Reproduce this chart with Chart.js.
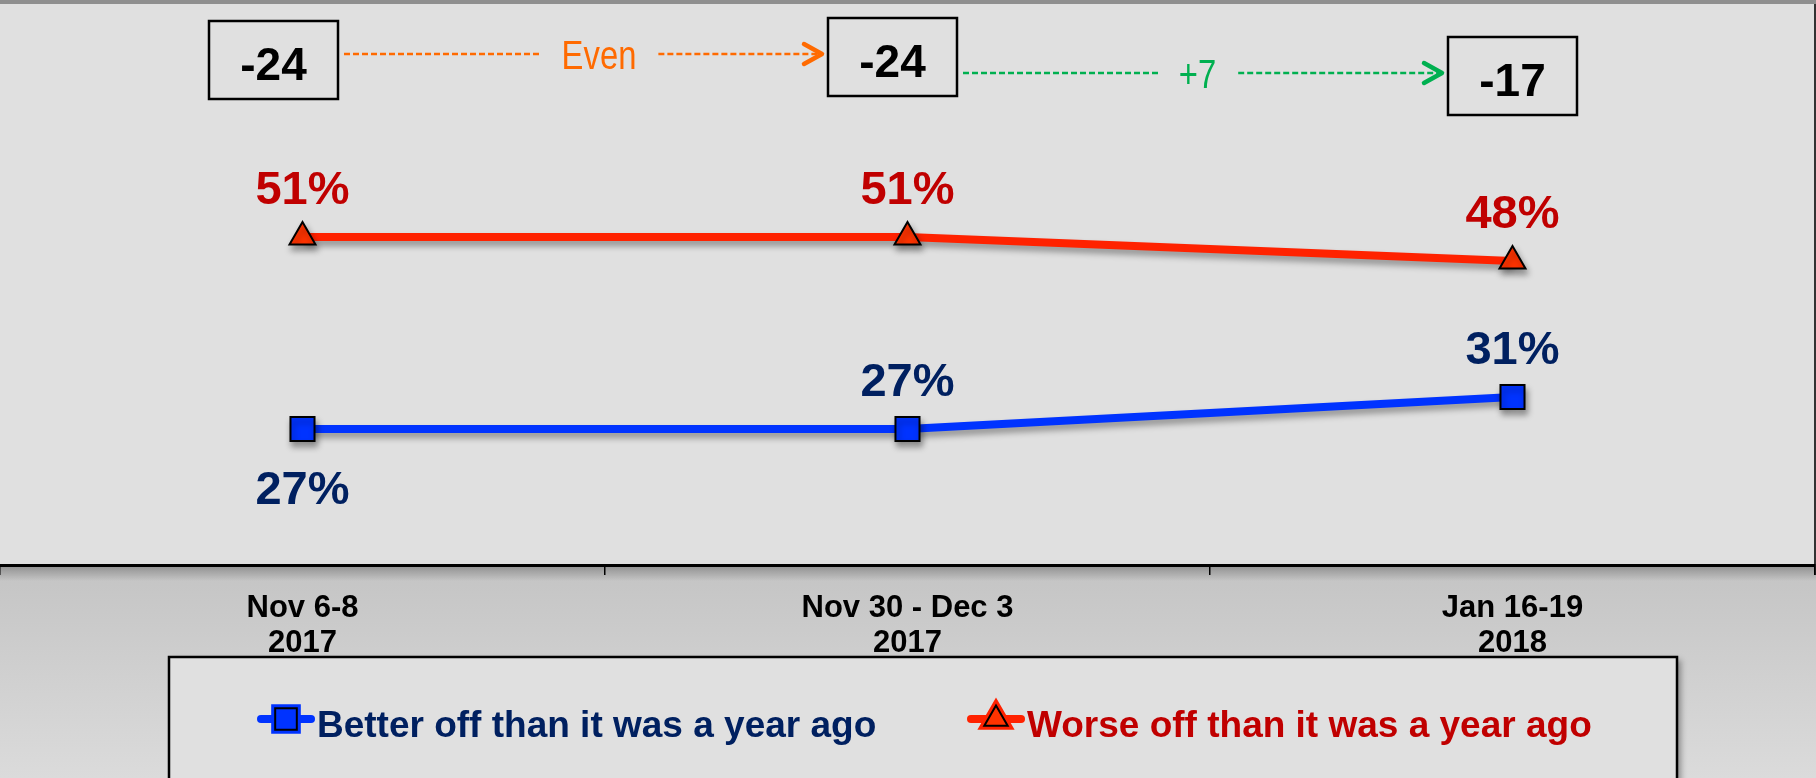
<!DOCTYPE html>
<html>
<head>
<meta charset="utf-8">
<script src="https://cdn.jsdelivr.net/npm/chart.js@4.4.1/dist/chart.umd.min.js"></script>
<style>
  html, body { margin: 0; padding: 0; background: #e0e0e0; }
  #wrap { width: 1816px; height: 778px; position: relative; }
</style>
</head>
<body>
<div id="wrap"><canvas id="chart" width="1816" height="778"></canvas></div>
<script>
// Economy better/worse off - line chart with net-change boxes

const periods = [['Nov 6-8', '2017'], ['Nov 30 - Dec 3', '2017'], ['Jan 16-19', '2018']];
const betterOff = [27, 27, 31];
const worseOff = [51, 51, 48];
const netValues = ['-24', '-24', '-17'];
const netChanges = ['Even', '+7'];
const seriesNames = ['Better off than it was a year ago', 'Worse off than it was a year ago'];

const FONT = '"Liberation Sans", Arial, sans-serif';
const NAVY = '#002060', DARKRED = '#c00000';

// background, top strip, lower band below the axis
const backdrop = {
    id: 'backdrop',
    beforeDraw(chart) {
        const { ctx, chartArea } = chart;
        const W = chart.width, H = chart.height, b = chartArea.bottom;
        ctx.save();
        ctx.fillStyle = '#e0e0e0';
        ctx.fillRect(0, 0, W, H);
        const g = ctx.createLinearGradient(0, b, 0, H);
        g.addColorStop(0, '#c4c4c4');
        g.addColorStop(1, '#dbdbdb');
        ctx.fillStyle = g;
        ctx.fillRect(0, b, W, H - b);
        const s = ctx.createLinearGradient(0, b, 0, b + 16);
        s.addColorStop(0, 'rgba(0,0,0,0.28)');
        s.addColorStop(1, 'rgba(0,0,0,0)');
        ctx.fillStyle = s;
        ctx.fillRect(0, b, W, 16);
        ctx.fillStyle = '#8f8f8f';
        ctx.fillRect(0, 0, W, 4);
        ctx.strokeStyle = '#333';
        ctx.lineWidth = 2;
        ctx.beginPath();
        ctx.moveTo(W - 1, 4);
        ctx.lineTo(W - 1, b + 10);
        ctx.stroke();
        ctx.restore();
    }
};

// soft drop shadow under lines and markers
const shadow = {
    id: 'shadow',
    beforeDatasetsDraw(chart) {
        const ctx = chart.ctx;
        ctx.save();
        ctx.shadowColor = 'rgba(0,0,0,0.35)';
        ctx.shadowBlur = 6;
        ctx.shadowOffsetX = 2;
        ctx.shadowOffsetY = 5;
    },
    afterDatasetsDraw(chart) { chart.ctx.restore(); }
};

// percentage labels next to each point
const pointLabels = {
    id: 'pointLabels',
    afterDatasetsDraw(chart) {
        const ctx = chart.ctx;
        const place = [['below', 'above', 'above'], ['above', 'above', 'above']];
        const colors = [NAVY, DARKRED];
        ctx.save();
        ctx.font = 'bold 47px ' + FONT;
        ctx.textAlign = 'center';
        ctx.textBaseline = 'alphabetic';
        chart.data.datasets.forEach((ds, di) => {
            chart.getDatasetMeta(di).data.forEach((pt, i) => {
                ctx.fillStyle = colors[di];
                const y = place[di][i] === 'below' ? pt.y + 75 : pt.y - 33;
                ctx.fillText(ds.data[i] + '%', pt.x, y);
            });
        });
        ctx.restore();
    }
};

function arrowLine(ctx, x1, x2, y, color, head) {
    ctx.save();
    ctx.strokeStyle = color;
    ctx.lineWidth = 2.5;
    ctx.setLineDash([6, 3]);
    ctx.beginPath();
    ctx.moveTo(x1, y);
    ctx.lineTo(x2, y);
    ctx.stroke();
    if (head) {
        ctx.setLineDash([]);
        ctx.lineWidth = 4.5;
        ctx.lineCap = 'round';
        ctx.lineJoin = 'round';
        ctx.beginPath();
        ctx.moveTo(x2 - 18, y - 10);
        ctx.lineTo(x2, y);
        ctx.lineTo(x2 - 18, y + 10);
        ctx.stroke();
    }
    ctx.restore();
}

// net score boxes and the change arrows between them
const netBoxes = {
    id: 'netBoxes',
    afterDraw(chart) {
        const ctx = chart.ctx;
        const xs = chart.scales.x;
        const dx = [-29, -15, 0], cy = [60, 57, 76];
        const bw = 129, bh = 78;
        const cx = netValues.map((v, i) => xs.getPixelForValue(i) + dx[i]);
        ctx.save();
        netValues.forEach((v, i) => {
            ctx.strokeStyle = '#000';
            ctx.lineWidth = 2.5;
            ctx.strokeRect(cx[i] - bw / 2, cy[i] - bh / 2, bw, bh);
            ctx.fillStyle = '#000';
            ctx.font = 'bold 46px ' + FONT;
            ctx.textAlign = 'center';
            ctx.textBaseline = 'alphabetic';
            ctx.fillText(v, cx[i], cy[i] + 20);
        });
        const cols = ['#ff6a00', '#00b050'];
        const ly = [54, 73];
        const shift = [16, -5];
        const sx = 0.8;
        netChanges.forEach((t, i) => {
            const left = cx[i] + bw / 2 + 6;
            const right = cx[i + 1] - bw / 2 - 6;
            const mid = (left + right) / 2 + shift[i];
            ctx.font = '41px ' + FONT;
            const tw = ctx.measureText(t).width * sx;
            arrowLine(ctx, left, mid - tw / 2 - 20, ly[i], cols[i], false);
            arrowLine(ctx, mid + tw / 2 + 22, right, ly[i], cols[i], true);
            ctx.save();
            ctx.translate(mid, ly[i] + 15);
            ctx.scale(sx, 1);
            ctx.fillStyle = cols[i];
            ctx.textAlign = 'center';
            ctx.textBaseline = 'alphabetic';
            ctx.fillText(t, 0, 0);
            ctx.restore();
        });
        ctx.restore();
    }
};

// boxed legend at the bottom
const boxLegend = {
    id: 'boxLegend',
    afterDraw(chart) {
        const ctx = chart.ctx;
        const x0 = 169, y0 = 657, x1 = 1677, y1 = chart.height + 10;
        ctx.save();
        ctx.shadowColor = 'rgba(0,0,0,0.35)';
        ctx.shadowBlur = 6;
        ctx.shadowOffsetX = 4;
        ctx.shadowOffsetY = 3;
        ctx.fillStyle = '#e0e0e0';
        ctx.fillRect(x0, y0, x1 - x0, y1 - y0);
        ctx.restore();
        ctx.save();
        ctx.strokeStyle = '#000';
        ctx.lineWidth = 2.5;
        ctx.strokeRect(x0, y0, x1 - x0, y1 - y0);
        const items = [{ x: 257, color: NAVY }, { x: 967, color: DARKRED }];
        const ly = 719;
        chart.data.datasets.forEach((ds, i) => {
            const lx = items[i].x;
            ctx.strokeStyle = ds.borderColor;
            ctx.lineWidth = 8;
            ctx.lineCap = 'round';
            ctx.beginPath();
            ctx.moveTo(lx + 4, ly);
            ctx.lineTo(lx + 54, ly);
            ctx.stroke();
            Chart.helpers.drawPoint(ctx, {
                pointStyle: ds.pointStyle, radius: ds.pointRadius * 0.9, borderWidth: 2
            }, lx + 29, ly);
            ctx.fillStyle = ds.pointBackgroundColor;
            ctx.strokeStyle = '#000';
            ctx.lineWidth = 2;
            ctx.fill();
            ctx.stroke();
            ctx.fillStyle = items[i].color;
            ctx.font = 'bold 37px ' + FONT;
            ctx.textAlign = 'left';
            ctx.textBaseline = 'alphabetic';
            ctx.fillText(ds.label, lx + 60, 737);
        });
        ctx.restore();
    }
};

new Chart(document.getElementById('chart'), {
    type: 'line',
    data: {
        labels: periods,
        datasets: [
            { label: seriesNames[0], data: betterOff, borderColor: '#0033ff', borderWidth: 8,
              pointStyle: 'rect', pointRadius: 17, pointBackgroundColor: '#0033ff',
              pointBorderColor: '#000', pointBorderWidth: 2, tension: 0, clip: false },
            { label: seriesNames[1], data: worseOff, borderColor: '#ff2200', borderWidth: 8,
              pointStyle: 'triangle', pointRadius: 15, pointBackgroundColor: '#ff3300',
              pointBorderColor: '#000', pointBorderWidth: 2, tension: 0, clip: false }
        ]
    },
    options: {
        responsive: false,
        animation: false,
        layout: { autoPadding: false, padding: { top: 5, left: 0, right: 1, bottom: 0 } },
        plugins: { legend: { display: false }, tooltip: { enabled: false } },
        scales: {
            y: { display: false, min: 10, max: 80 },
            x: {
                offset: true,
                afterFit(scale) { scale.height = 213; scale.paddingLeft = 0; scale.paddingRight = 0; },
                grid: { offset: true, drawOnChartArea: false, drawTicks: true, tickLength: 10, color: '#000', lineWidth: 1.5 },
                border: { display: true, color: '#000', width: 3 },
                ticks: { color: '#000', padding: 16, maxRotation: 0, font: { family: FONT, size: 31, weight: 'bold', lineHeight: 1.13 } }
            }
        }
    },
    plugins: [backdrop, shadow, pointLabels, netBoxes, boxLegend]
});
</script>
</body>
</html>
